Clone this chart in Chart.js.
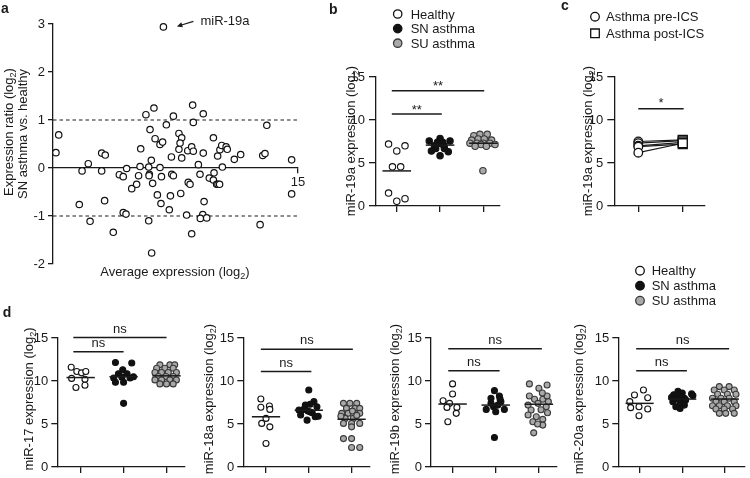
<!DOCTYPE html>
<html>
<head>
<meta charset="utf-8">
<script src="https://cdn.jsdelivr.net/npm/chart.js@4.4.1/dist/chart.umd.min.js"></script>
<style>
  html, body { margin: 0; padding: 0; background: #ffffff; }
  body { position: relative; width: 750px; height: 478px; overflow: hidden; }
  canvas { position: absolute; }
</style>
</head>
<body>
<canvas id="chart-a" width="310" height="285" style="left:0;top:0"></canvas>
<canvas id="chart-b" width="210" height="225" style="left:300px;top:0"></canvas>
<canvas id="chart-c" width="205" height="225" style="left:510px;top:0"></canvas>
<canvas id="chart-d17" width="195" height="218" style="left:0;top:260px"></canvas>
<canvas id="chart-d18" width="195" height="218" style="left:185px;top:260px"></canvas>
<canvas id="chart-d19b" width="195" height="218" style="left:372px;top:260px"></canvas>
<canvas id="chart-d20a" width="190" height="218" style="left:560px;top:260px"></canvas>
<script>
"use strict";

// ---- panel a: expression ratio vs average expression (first point is miR-19a) ----
const maAvg = [
  6.76, 0.18, 0.35, 1.61, 1.78, 2.16, 2.27, 2.98, 3.2, 2.98,
  3.16, 3.69, 4.06, 4.3, 4.51, 4.3, 4.47, 4.82, 5.12, 5.24,
  5.33, 5.37, 5.69, 5.94, 6.18, 5.86, 5.9, 5.88, 6.02, 6.1,
  5.86, 6.04, 6.25, 6.55, 6.71, 6.55, 6.64, 6.39, 6.61, 6.94,
  7.12, 7.19, 7.25, 7.27, 7.37, 7.37, 7.71, 7.88, 7.71, 7.78,
  7.88, 7.82, 8.18, 8.25, 8.28, 8.39, 8.49, 8.55, 8.59, 8.59,
  8.49, 8.9, 9.0, 9.2, 9.25, 9.17, 9.02, 9.41, 9.2, 9.82,
  9.57, 9.82, 9.86, 10.02, 10.1, 10.2, 10.08, 10.22, 10.33, 10.37,
  10.6, 10.67, 11.1, 11.49, 13.09, 12.84, 12.98, 14.61, 14.61, 12.68,
];
const maRatio = [
  2.94, 0.32, 0.69, -0.76, -0.06, 0.09, -1.11, 0.31, 0.27, -0.06,
  -0.68, -1.34, -0.14, -0.18, -0.01, -0.93, -0.96, -0.43, -0.34, -0.16,
  0.03, 0.4, 1.11, 0.8, 1.25, 0.02, -0.13, -0.16, 0.16, -0.32,
  -1.1, -1.77, 0.61, 0.49, 0.54, 0.01, -0.18, -0.56, -0.74, 0.9,
  -0.87, -0.58, 0.23, -0.13, -0.16, 1.08, 0.72, 0.63, 0.39, 0.52,
  0.21, -0.53, -0.98, 0.36, -0.3, -0.34, 0.44, 1.31, 0.95, 0.35,
  -1.37, 0.07, -0.13, 0.31, -0.7, -0.97, -1.05, -1.04, 1.13, 0.63,
  -0.21, -0.25, -0.1, -0.34, -0.34, -0.34, 0.25, 0.38, 0.47, 0.02,
  0.44, 0.39, 0.18, 0.28, 0.89, 0.26, 0.3, 0.17, -0.54, -1.18,
];
const maCutoffs = [1, -1];
const maRange = [0, 15];
const maXTicks = [15];
const maCallout = "miR-19a";

// ---- shared ----
const groupNames = ["Healthy", "SN asthma", "SU asthma"];
const icsNames = ["Asthma pre-ICS", "Asthma post-ICS"];

// ---- panel b: miR-19a ----
const b19aHealthy = [7.2, 6.4, 7.0, 4.55, 4.55, 1.5, 0.55, 0.85];
const b19aHealthyJit = [-0.19, 0, 0.19, -0.1, 0.09, -0.19, 0, 0.19];
const b19aSN = [7.55, 7.85, 7.55, 7.0, 7.0, 7.3, 6.4, 6.3, 5.85, 6.7, 6.7, 7.4, 7.4];
const b19aSNJit = [-0.25, 0, 0.23, -0.13, 0.09, 0, -0.2, 0.19, 0, -0.1, 0.1, -0.06, 0.06];
const b19aSU = [8.33, 8.33, 8.17, 7.8, 7.8, 7.67, 7.67, 7.3, 7.3, 7.3, 7.3, 7.15, 7.15, 6.95, 6.95, 4.1];
const b19aSUJit = [-0.08, 0.09, -0.22, -0.12, 0.02, -0.27, 0.19, -0.31, -0.15, 0, 0.15, 0.27, -0.05, -0.19, 0.07, -0.01];
const b19aMedian = [4.08, 7.08, 7.3];
const b19aSigY = [10.7, 13.4];
const b19aSigFrom = [0.885, 0.885];
const b19aSigTo = [2.04, 3.02];
const b19aSigText = ["**", "**"];

// ---- panel c: miR-19a before / after ICS (paired) ----
const cPre = [7.5, 7.3, 7.0, 6.9, 6.2];
const cPost = [7.7, 7.6, 7.4, 7.2, 7.3];
const cSigY = [11.3];
const cSigFrom = [1.0];
const cSigTo = [2.02];
const cSigText = ["*"];

// ---- panel d: miR-17 ----
const d17Healthy = [11.6, 11.1, 10.95, 11.1, 10.3, 10.2, 9.5, 9.25];
const d17HealthyJit = [-0.22, -0.09, 0.02, 0.12, -0.21, 0.1, 0.1, -0.11];
const d17SN = [12.15, 12.1, 11.3, 10.85, 10.85, 10.35, 10.45, 10.35, 10.5, 9.85, 9.85, 7.4];
const d17SNJit = [-0.19, 0.19, -0.02, -0.12, 0.08, -0.23, -0.04, 0.15, 0.23, -0.19, 0, 0];
const d17SU = [11.88, 11.88, 11.88, 11.49, 11.49, 11.49, 10.99, 10.99, 10.99, 10.99, 10.52, 10.52, 10.52, 10.13, 10.13, 10.13, 10.13, 9.66, 9.66, 9.66];
const d17SUJit = [-0.155, 0.078, 0.19, -0.23, -0.04, 0.155, -0.27, -0.116, 0.04, 0.23, -0.19, -0.015, 0.155, -0.27, -0.116, 0.078, 0.23, -0.155, 0, 0.155];
const d17Median = [10.4, 10.5, 10.6];
const d17SigY = [13.4, 15.05];
const d17SigFrom = [0.83, 0.83];
const d17SigTo = [2.0, 3.0];

// ---- panel d: miR-18a ----
const d18Healthy = [7.9, 6.95, 7.1, 6.7, 5.65, 5.07, 4.67, 2.73];
const d18HealthyJit = [-0.12, -0.12, 0.08, 0.09, 0, -0.1, 0.09, 0];
const d18SN = [8.96, 7.6, 7.2, 7.0, 6.62, 6.7, 6.4, 6.04, 5.84, 5.45, 6.3, 6.5, 7.3, 5.9];
const d18SNJit = [0, 0.12, -0.08, 0.19, -0.23, -0.12, 0.04, -0.19, 0.15, -0.04, 0.08, -0.02, 0.03, 0.22];
const d18SU = [7.4, 7.4, 7.4, 6.82, 6.82, 6.82, 6.24, 6.24, 6.24, 5.65, 5.65, 5.07, 5.07, 5.07, 4.67, 3.3, 3.3, 2.27, 2.27, 6.5, 6.0, 5.9];
const d18SUJit = [-0.19, -0.04, 0.12, -0.12, 0.08, 0.19, -0.23, -0.08, 0.19, -0.15, 0.04, -0.19, 0, 0.19, 0, -0.19, 0, 0, 0.19, 0.02, 0.12, -0.25];
const d18Median = [5.84, 6.6, 5.55];
const d18SigY = [11.1, 13.7];
const d18SigFrom = [0.88, 0.88];
const d18SigTo = [2.06, 3.03];

// ---- panel d: miR-19b ----
const d19bHealthy = [9.66, 8.49, 7.71, 7.4, 6.93, 6.93, 6.24, 5.26];
const d19bHealthyJit = [0, 0, -0.22, -0.07, -0.13, 0.1, 0.085, -0.11];
const d19bSN = [8.88, 8.26, 7.99, 7.6, 7.4, 6.7, 6.7, 6.43, 3.43, 7.2, 7.9, 7.0];
const d19bSNJit = [-0.03, 0.085, -0.11, 0.12, -0.11, -0.22, 0.2, 0, -0.03, 0.05, 0.1, -0.05];
const d19bSU = [9.66, 9.54, 9.15, 8.26, 7.87, 7.87, 8.26, 7.2, 7.4, 7.0, 6.62, 6.66, 6.04, 5.84, 5.54, 5.26, 4.87, 3.97, 8.6, 7.6, 6.3, 5.0];
const d19bSUJit = [-0.22, 0.19, 0, -0.22, -0.1, 0.09, 0.19, -0.25, -0.02, 0.17, -0.18, 0.05, -0.25, -0.06, 0.09, -0.14, 0.09, -0.12, 0.08, 0.22, 0.2, -0.03];
const d19bMedian = [7.32, 7.2, 7.3];
const d19bSigY = [11.2, 13.75];
const d19bSigFrom = [0.9, 0.9];
const d19bSigTo = [2.09, 3.07];

// ---- panel d: miR-20a ----
const d20aHealthy = [8.96, 8.38, 8.06, 7.6, 6.9, 7.0, 6.74, 5.96];
const d20aHealthyJit = [0.09, -0.12, 0.19, -0.23, -0.21, -0.015, 0.19, -0.015];
const d20aSN = [8.8, 8.6, 8.5, 8.4, 8.2, 8.1, 8.0, 7.9, 7.8, 7.6, 7.4, 7.2, 7.0, 6.8, 8.3];
const d20aSNJit = [-0.1, 0.0, 0.22, -0.2, -0.05, -0.25, 0.05, -0.15, 0.08, -0.22, -0.05, 0.05, -0.15, -0.05, 0.25];
const d20aSU = [9.35, 9.35, 8.96, 8.96, 8.96, 8.46, 8.46, 8.46, 7.99, 7.99, 7.99, 7.6, 7.6, 7.6, 7.13, 7.13, 7.13, 7.13, 6.74, 6.74, 6.74, 6.24, 6.24, 6.24];
const d20aSUJit = [-0.13, 0.1, -0.25, -0.015, 0.22, -0.17, 0.06, 0.26, -0.29, -0.09, 0.1, -0.21, -0.015, 0.22, -0.29, -0.13, 0.06, 0.26, -0.21, -0.015, 0.18, -0.13, 0.02, 0.22];
const d20aMedian = [7.4, 7.9, 7.9];
const d20aSigY = [11.2, 13.75];
const d20aSigFrom = [0.92, 0.92];
const d20aSigTo = [2.11, 3.1];

const dotTicks = [0, 15, 5];

// ---- look ----
const FONT = "'Liberation Sans', Arial, Helvetica, sans-serif";
const TEXT = "#1a1a1a";
const AXIS = "#1a1a1a";
const groupStyles = [
  { fill: "#ffffff", line: "#111111" },
  { fill: "#111111", line: "#111111" },
  { fill: "#a9a9a9", line: "#3a3a3a" },
];

Chart.defaults.font.family = FONT;
Chart.defaults.font.size = 13;
Chart.defaults.color = TEXT;

function drawRich(ctx, parts, x, y, opt = {}) {
  const size = opt.size || 13;
  const weight = opt.bold ? "bold " : "";
  const pieces = parts.map((p) => {
    const sub = p.startsWith("_");
    const s = sub ? size * 0.7 : size;
    return { text: sub ? p.slice(1) : p, sub, font: `${weight}${s}px ${FONT}` };
  });
  ctx.save();
  ctx.translate(x, y);
  if (opt.rotate) ctx.rotate(-Math.PI / 2);
  let total = 0;
  pieces.forEach((pc) => {
    ctx.font = pc.font;
    pc.w = ctx.measureText(pc.text).width;
    total += pc.w;
  });
  let cx = opt.align === "left" ? 0 : opt.align === "right" ? -total : -total / 2;
  ctx.fillStyle = opt.color || TEXT;
  ctx.textAlign = "left";
  ctx.textBaseline = "alphabetic";
  const base = size * 0.36;
  pieces.forEach((pc) => {
    ctx.font = pc.font;
    ctx.fillText(pc.text, cx, base + (pc.sub ? size * 0.25 : 0));
    cx += pc.w;
  });
  ctx.restore();
}

function drawMarker(ctx, shape, x, y, r, fill, line) {
  ctx.save();
  ctx.beginPath();
  if (shape === "rect") ctx.rect(x - r, y - r, 2 * r, 2 * r);
  else ctx.arc(x, y, r, 0, Math.PI * 2);
  ctx.fillStyle = fill;
  ctx.fill();
  ctx.lineWidth = 1.3;
  ctx.strokeStyle = line;
  ctx.stroke();
  ctx.restore();
}

const annotate = {
  id: "annotate",
  afterDatasetsDraw(chart, args, opts) {
    const ctx = chart.ctx;
    const xs = chart.scales.x;
    const ys = chart.scales.y;
    (opts.texts || []).forEach((t) => drawRich(ctx, t.parts, t.x, t.y, t));
    (opts.sigs || []).forEach((s) => {
      const mid = (xs.getPixelForValue(s.from) + xs.getPixelForValue(s.to)) / 2;
      drawRich(ctx, [s.text], mid, ys.getPixelForValue(s.y) - s.dy, { size: 13 });
    });
    const lg = opts.legend;
    if (lg) {
      lg.items.forEach((it, i) => {
        const yy = lg.y + i * lg.gap;
        drawMarker(ctx, it.shape, lg.x, yy, it.r, it.fill, it.line);
        drawRich(ctx, [it.label], lg.textX, yy, { align: "left", size: 13 });
      });
    }
    const co = opts.callout;
    if (co) {
      const px = xs.getPixelForValue(co.x);
      const py = ys.getPixelForValue(co.y);
      const tipX = px + 13.5, tipY = py - 0.5;
      const tailX = px + 30, tailY = py - 5.5;
      const ang = Math.atan2(tipY - tailY, tipX - tailX);
      ctx.save();
      ctx.strokeStyle = AXIS;
      ctx.fillStyle = AXIS;
      ctx.lineWidth = 1.2;
      ctx.beginPath();
      ctx.moveTo(tailX, tailY);
      ctx.lineTo(tipX - 4 * Math.cos(ang), tipY - 4 * Math.sin(ang));
      ctx.stroke();
      ctx.beginPath();
      ctx.moveTo(tipX, tipY);
      ctx.lineTo(tipX - 6 * Math.cos(ang - 0.45), tipY - 6 * Math.sin(ang - 0.45));
      ctx.lineTo(tipX - 6 * Math.cos(ang + 0.45), tipY - 6 * Math.sin(ang + 0.45));
      ctx.closePath();
      ctx.fill();
      ctx.restore();
      drawRich(ctx, [co.text], px + 37, py - 7, { align: "left", size: 13 });
    }
  },
};

function axisY(width, min, max, step, tickLen, pad) {
  return {
    type: "linear",
    min,
    max,
    ticks: { stepSize: step, padding: pad, color: TEXT, font: { size: 13 } },
    grid: { display: true, drawOnChartArea: false, drawTicks: true, tickLength: tickLen, color: AXIS, lineWidth: 1.3 },
    border: { display: true, color: AXIS, width: 1.3 },
    afterFit: (s) => { s.width = width; },
  };
}

function axisXGroups(min, max, count) {
  return {
    type: "linear",
    min,
    max,
    afterBuildTicks: (s) => {
      s.ticks = Array.from({ length: count }, (_, i) => ({ value: i + 1 }));
    },
    ticks: { display: false },
    grid: { display: true, drawOnChartArea: false, drawTicks: true, tickLength: 6, color: AXIS, lineWidth: 1.3 },
    border: { display: true, color: AXIS, width: 1.3 },
    afterFit: (s) => { s.height = 8; },
  };
}

function segment(x1, x2, y) {
  return [{ x: x1, y }, { x: x2, y }];
}

function lineSet(data, width, dash, order) {
  return {
    data,
    showLine: true,
    borderColor: AXIS,
    borderWidth: width,
    borderDash: dash || [],
    pointRadius: 0,
    clip: false,
    order,
  };
}

function groupSets(groups, medians, sigY, sigFrom, sigTo, radius) {
  const sets = [];
  medians.forEach((m, i) => sets.push(lineSet(segment(i + 1 - 0.33, i + 1 + 0.33, m), 1.5, null, 0)));
  sigY.forEach((y, i) => sets.push(lineSet(segment(sigFrom[i], sigTo[i], y), 1.4, null, 0)));
  groups.forEach((g, i) => {
    sets.push({
      data: g.values.map((v, j) => ({ x: i + 1 + g.jitter[j], y: v })),
      backgroundColor: groupStyles[i].fill,
      borderColor: groupStyles[i].line,
      borderWidth: 1.1,
      pointRadius: radius,
      clip: false,
      order: 1,
    });
  });
  return sets;
}

function sigLabels(sigY, sigFrom, sigTo, texts, dy) {
  return sigY.map((y, i) => ({ y, from: sigFrom[i], to: sigTo[i], text: texts[i], dy }));
}

function makeChart(id, datasets, scales, padding, annotations) {
  return new Chart(document.getElementById(id), {
    type: "scatter",
    data: { datasets },
    options: {
      responsive: false,
      animation: false,
      events: [],
      layout: { padding },
      scales,
      plugins: { legend: { display: false }, tooltip: { enabled: false }, annotate: annotations },
    },
    plugins: [annotate],
  });
}

function yTitle(name, x, y) {
  return { parts: [name + " expression (log", "_2", ")"], x, y, rotate: true };
}

// ---- panel a ----
makeChart(
  "chart-a",
  [
    ...maCutoffs.map((c) => lineSet(segment(maRange[0], maRange[1], c), 1.2, [3.5, 3], 2)),
    {
      data: maAvg.map((x, i) => ({ x, y: maRatio[i] })),
      backgroundColor: "#ffffff",
      borderColor: "#111111",
      borderWidth: 1.2,
      pointRadius: 3.2,
      clip: false,
      order: 1,
    },
  ],
  {
    x: {
      type: "linear",
      min: maRange[0],
      max: maRange[1],
      position: { y: 0 },
      afterBuildTicks: (s) => { s.ticks = maXTicks.map((v) => ({ value: v })); },
      ticks: { padding: 2, color: TEXT, font: { size: 13 }, maxRotation: 0 },
      grid: { display: true, drawOnChartArea: false, drawTicks: true, tickLength: 5, color: AXIS, lineWidth: 1.3 },
      border: { display: true, color: AXIS, width: 1.3 },
      afterFit: (s) => { s.height = 0; },
    },
    y: axisY(53, -2, 3, 1, 5, 3),
  },
  { left: 0, top: 24, right: 12, bottom: 21 },
  {
    texts: [
      { parts: ["a"], x: 5, y: 8.3, bold: true, size: 14 },
      { parts: ["Expression ratio (log", "_2", ")"], x: 8, y: 132, rotate: true },
      { parts: ["SN asthma vs. healthy"], x: 22, y: 134, rotate: true },
      { parts: ["Average expression (log", "_2", ")"], x: 175, y: 271.5 },
    ],
    callout: { x: maAvg[0], y: maRatio[0], text: maCallout },
  }
);

// ---- panel b ----
makeChart(
  "chart-b",
  groupSets(
    [
      { values: b19aHealthy, jitter: b19aHealthyJit },
      { values: b19aSN, jitter: b19aSNJit },
      { values: b19aSU, jitter: b19aSUJit },
    ],
    b19aMedian, b19aSigY, b19aSigFrom, b19aSigTo, 3.2
  ),
  { x: axisXGroups(0.52, 3.385, 3), y: axisY(76, dotTicks[0], dotTicks[1], dotTicks[2], 7, 4) },
  { left: 0, top: 77, right: 10, bottom: 11 },
  {
    texts: [
      { parts: ["b"], x: 33.3, y: 9.3, bold: true, size: 14 },
      yTitle("miR-19a", 50.7, 141),
    ],
    sigs: sigLabels(b19aSigY, b19aSigFrom, b19aSigTo, b19aSigText, 5),
    legend: {
      x: 97.7, y: 14, gap: 14.6, textX: 110.7,
      items: groupNames.map((label, i) => ({ label, shape: "circle", r: 4.2, fill: groupStyles[i].fill, line: groupStyles[i].line })),
    },
  }
);

// ---- panel c ----
makeChart(
  "chart-c",
  [
    lineSet(segment(cSigFrom[0], cSigTo[0], cSigY[0]), 1.4, null, 0),
    ...cPre.map((v, i) => lineSet([{ x: 1, y: v }, { x: 2, y: cPost[i] }], 1.2, null, 3)),
    {
      data: cPre.map((v) => ({ x: 1, y: v })),
      backgroundColor: "#ffffff",
      borderColor: "#111111",
      borderWidth: 1.3,
      pointRadius: 4.3,
      clip: false,
      order: 1,
    },
    {
      data: cPost.map((v) => ({ x: 2, y: v })),
      pointStyle: "rect",
      backgroundColor: "#ffffff",
      borderColor: "#111111",
      borderWidth: 1.3,
      pointRadius: 6.3,
      clip: false,
      order: 1,
    },
  ],
  { x: axisXGroups(0.46, 2.5, 2), y: axisY(104.3, dotTicks[0], dotTicks[1], dotTicks[2], 7, 4) },
  { left: 0, top: 77, right: 10, bottom: 11 },
  {
    texts: [
      { parts: ["c"], x: 55, y: 4.9, bold: true, size: 14 },
      yTitle("miR-19a", 77.3, 141),
    ],
    sigs: sigLabels(cSigY, cSigFrom, cSigTo, cSigText, 6.5),
    legend: {
      x: 85, y: 16.7, gap: 16.6, textX: 96,
      items: [
        { label: icsNames[0], shape: "circle", r: 4.3, fill: "#ffffff", line: "#111111" },
        { label: icsNames[1], shape: "rect", r: 4.3, fill: "#ffffff", line: "#111111" },
      ],
    },
  }
);

// ---- panel d ----
const nsText = ["ns", "ns"];
const dPanels = [
  { id: "chart-d17", name: "miR-17", h: d17Healthy, hj: d17HealthyJit, n: d17SN, nj: d17SNJit, u: d17SU, uj: d17SUJit,
    med: d17Median, sy: d17SigY, sf: d17SigFrom, st: d17SigTo, left: 57.3, min: 0.456, max: 3.43, right: 10, titleX: 28 },
  { id: "chart-d18", name: "miR-18a", h: d18Healthy, hj: d18HealthyJit, n: d18SN, nj: d18SNJit, u: d18SU, uj: d18SUJit,
    med: d18Median, sy: d18SigY, sf: d18SigFrom, st: d18SigTo, left: 58.3, min: 0.47, max: 3.43, right: 10, titleX: 23.3 },
  { id: "chart-d19b", name: "miR-19b", h: d19bHealthy, hj: d19bHealthyJit, n: d19bSN, nj: d19bSNJit, u: d19bSU, uj: d19bSUJit,
    med: d19bMedian, sy: d19bSigY, sf: d19bSigFrom, st: d19bSigTo, left: 59, min: 0.5, max: 3.42, right: 10, titleX: 22 },
  { id: "chart-d20a", name: "miR-20a", h: d20aHealthy, hj: d20aHealthyJit, n: d20aSN, nj: d20aSNJit, u: d20aSU, uj: d20aSUJit,
    med: d20aMedian, sy: d20aSigY, sf: d20aSigFrom, st: d20aSigTo, left: 58.3, min: 0.5, max: 3.47, right: 4, titleX: 18.3 },
];

dPanels.forEach((p, k) => {
  const texts = [yTitle(p.name, p.titleX, 139)];
  if (k === 0) texts.push({ parts: ["d"], x: 7, y: 51.7, bold: true, size: 14 });
  const ann = { texts, sigs: sigLabels(p.sy, p.sf, p.st, nsText, 9.5) };
  if (k === dPanels.length - 1) {
    ann.legend = {
      x: 80, y: 10.7, gap: 15, textX: 91.7,
      items: groupNames.map((label, i) => ({ label, shape: "circle", r: 4.3, fill: groupStyles[i].fill, line: groupStyles[i].line })),
    };
  }
  makeChart(
    p.id,
    groupSets(
      [
        { values: p.h, jitter: p.hj },
        { values: p.n, jitter: p.nj },
        { values: p.u, jitter: p.uj },
      ],
      p.med, p.sy, p.sf, p.st, 3
    ),
    { x: axisXGroups(p.min, p.max, 3), y: axisY(p.left, dotTicks[0], dotTicks[1], dotTicks[2], 6, 3) },
    { left: 0, top: 78, right: p.right, bottom: 3 },
    ann
  );
});
</script>
</body>
</html>
